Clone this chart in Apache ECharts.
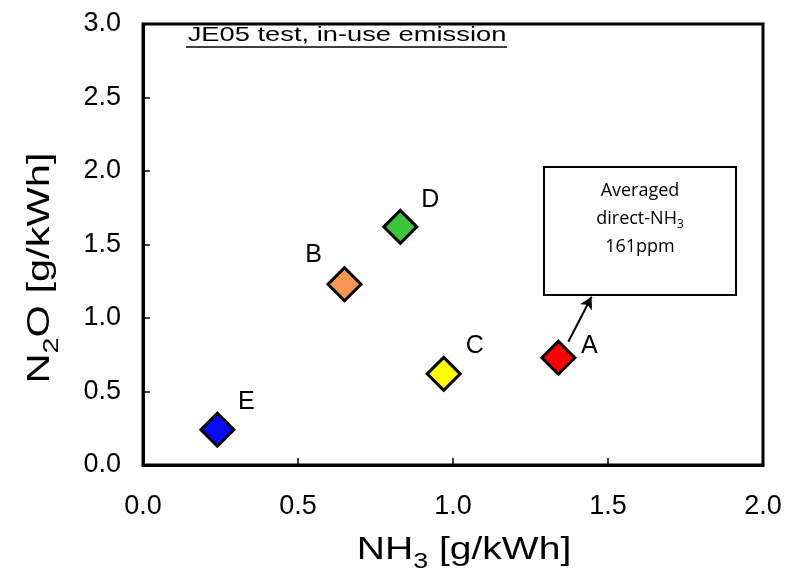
<!DOCTYPE html>
<html>
<head>
<meta charset="utf-8">
<script src="https://cdn.jsdelivr.net/npm/echarts@6/dist/echarts.min.js"></script>
<style>
  html, body { margin: 0; padding: 0; background: #fff; }
  #chart { width: 787px; height: 576px; }
</style>
</head>
<body>
<div id="chart"></div>
<script>
// Vehicles tested on the JE05 cycle
const categories = ['A', 'B', 'C', 'D', 'E'];
// NH3 emission [g/kWh]
const nh3Values = [1.34, 0.65, 0.97, 0.83, 0.24];
// N2O emission [g/kWh]
const n2oValues = [0.73, 1.23, 0.62, 1.62, 0.24];
// Axis ranges and tick step
const xRange = [0, 2.0];
const yRange = [0, 3.0];
const tickStep = 0.5;
// Annotation arrow for vehicle A (data coordinates)
const arrowFrom = [1.372, 0.839];
const arrowTo = [1.447, 1.145];
// Annotation text
const noteLines = ['Averaged', 'direct-NH', '161ppm'];

// Styling
const pointColors = { A: '#ff0000', B: '#f79552', C: '#ffff00', D: '#3cc43c', E: '#0a0af5' };
const labelOffsets = { A: [31, -12], B: [-31, -29], C: [31, -28], D: [30, -27], E: [29, -28] };
const FONT = 'Liberation Sans, Arial, sans-serif';
const NOTE_FONT = 'Open Sans, sans-serif';

const chart = echarts.init(document.getElementById('chart'));

const points = categories.map((name, i) => ({
  name: name,
  value: [nh3Values[i], n2oValues[i]],
  itemStyle: { color: pointColors[name] },
  label: { offset: labelOffsets[name] }
}));

// Rich-text styles for axis titles with subscripts
const subRich = {
  m: { fontSize: 32, fontFamily: FONT, fill: '#000', lineHeight: 36 },
  s: { fontSize: 22, fontFamily: FONT, fill: '#000', lineHeight: 20, padding: [24, 0, 0, 0] }
};
const noteRich = {
  a: { fontSize: 18, fontFamily: NOTE_FONT, fill: '#000', lineHeight: 28 },
  s: { fontSize: 12, fontFamily: NOTE_FONT, fill: '#000', lineHeight: 14, padding: [12, 0, 0, 0] }
};

const option = {
  backgroundColor: '#fff',
  animation: false,
  grid: {
    left: 143, right: 24, top: 24, bottom: 111,
    show: true, borderColor: '#000', borderWidth: 3
  },
  xAxis: {
    type: 'value',
    min: xRange[0], max: xRange[1], interval: tickStep,
    axisLine: { show: true, lineStyle: { color: '#000', width: 3 } },
    axisTick: { show: true, inside: true, length: 7, lineStyle: { color: '#000', width: 1.5 } },
    splitLine: { show: false },
    axisLabel: {
      margin: 28, fontSize: 27, fontFamily: FONT, color: '#000',
      formatter: v => v.toFixed(1)
    }
  },
  yAxis: {
    type: 'value',
    min: yRange[0], max: yRange[1], interval: tickStep,
    axisLine: { show: true, lineStyle: { color: '#000', width: 3 } },
    axisTick: { show: true, inside: true, length: 7, lineStyle: { color: '#000', width: 1.5 } },
    splitLine: { show: false },
    axisLabel: {
      margin: 22, fontSize: 27, fontFamily: FONT, color: '#000',
      formatter: v => v.toFixed(1)
    }
  },
  series: [{
    type: 'scatter',
    data: points,
    symbol: 'diamond',
    symbolSize: 33,
    itemStyle: { borderColor: '#000', borderWidth: 3, opacity: 1 },
    label: {
      show: true, position: 'inside', formatter: '{b}',
      fontSize: 25, fontFamily: FONT, color: '#000'
    },
    emphasis: { disabled: true },
    markLine: {
      silent: true,
      symbol: ['none', 'arrow'],
      symbolSize: [10, 12],
      lineStyle: { color: '#000', width: 2, type: 'solid' },
      label: { show: false },
      data: [[{ coord: arrowFrom }, { coord: arrowTo }]]
    }
  }],
  graphic: [
    // Plot title, underlined
    {
      type: 'text', x: 347, y: 35, scaleX: 1.3,
      style: {
        text: 'JE05 test, in-use emission', fontSize: 21, fontFamily: FONT,
        fill: '#000', align: 'center', verticalAlign: 'middle'
      }
    },
    {
      type: 'line',
      shape: { x1: 186, y1: 47, x2: 507, y2: 47 },
      style: { stroke: '#000', lineWidth: 1.5 }
    },
    // Annotation box
    {
      type: 'rect',
      shape: { x: 544, y: 167, width: 192, height: 128 },
      style: { fill: '#fff', stroke: '#000', lineWidth: 2 }
    },
    {
      type: 'text', x: 640, y: 219,
      style: {
        text: '{a|' + noteLines[0] + '}\n{a|' + noteLines[1] + '}{s|3}\n{a|' + noteLines[2] + '}',
        align: 'center', verticalAlign: 'middle',
        rich: noteRich
      }
    },
    // Axis titles
    {
      type: 'text', x: 464, y: 550, scaleX: 1.22,
      style: {
        text: '{m|NH}{s|3}{m| [g/kWh]}', align: 'center', verticalAlign: 'middle',
        rich: subRich
      }
    },
    {
      type: 'text', x: 40, y: 268, rotation: Math.PI / 2, scaleX: 1.3,
      style: {
        text: '{m|N}{s|2}{m|O [g/kWh]}', align: 'center', verticalAlign: 'middle',
        rich: subRich
      }
    }
  ]
};

chart.setOption(option);
</script>
</body>
</html>
